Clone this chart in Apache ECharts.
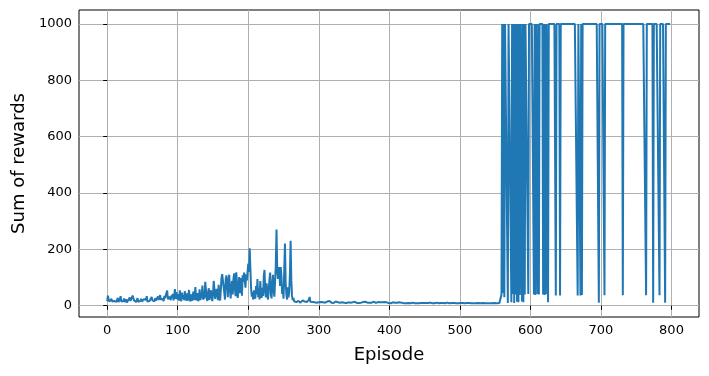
<!DOCTYPE html>
<html>
<head>
<meta charset="utf-8">
<script src="https://cdn.jsdelivr.net/npm/echarts@6/dist/echarts.min.js"></script>
<style>
  html, body { margin: 0; padding: 0; background: #fff; }
  #main { width: 709px; height: 376px; }
</style>
</head>
<body>
<div id="main"></div>
<script>
// tick labels
var xTicks = [0, 100, 200, 300, 400, 500, 600, 700, 800];
var yTicks = [0, 200, 400, 600, 800, 1000];

// sum of rewards per episode
var rewardsEarly = [ // 0-99
  16, 36, 22, 14, 18, 12, 25, 15, 20, 13,
  17, 11, 22, 14, 19, 28, 13, 16, 24, 34,
  15, 12, 20, 17, 26, 13, 18, 22, 11, 16,
  21, 14, 29, 17, 12, 24, 36, 43, 19, 15,
  22, 13, 18, 27, 14, 20, 11, 17, 25, 15,
  19, 12, 23, 16, 28, 21, 34, 15, 13, 20,
  17, 24, 14, 31, 19, 12, 22, 16, 27, 18,
  13, 25, 33, 20, 15, 38, 22, 17, 29, 24,
  16, 35, 27, 21, 45, 54, 23, 18, 32, 26,
  20, 37, 28, 42, 19, 33, 59, 24, 48, 30
];
var rewardsRamp = [ // 100-199
  22, 41, 18, 55, 30, 16, 47, 25, 38, 20,
  52, 19, 27, 44, 17, 35, 56, 23, 15, 40,
  28, 18, 50, 21, 33, 66, 19, 25, 45, 16,
  24, 58, 20, 17, 38, 72, 22, 18, 30, 85,
  90, 26, 17, 48, 62, 21, 19, 55, 33, 16,
  42, 88, 91, 24, 18, 60, 37, 20, 74, 28,
  19, 52, 98, 112, 105, 113, 46, 22, 95, 108,
  78, 30, 92, 110, 55, 26, 68, 88, 40, 96,
  115, 62, 34, 119, 75, 28, 58, 102, 45, 70,
  98, 36, 108, 85, 118, 122, 64, 112, 90, 120
];
var rewardsPeak = [ // 200-299
  150, 120, 204, 130, 60, 32, 48, 22, 55, 36,
  25, 70, 40, 95, 30, 62, 22, 88, 45, 28,
  64, 35, 105, 127, 50, 30, 80, 42, 22, 58,
  92, 118, 40, 26, 75, 110, 55, 32, 88, 140,
  271, 130, 95, 128, 137, 70, 137, 105, 42, 60,
  25, 130, 221, 80, 40, 22, 65, 30, 48, 110,
  231, 90, 35, 20, 28, 16, 14, 18, 13, 15,
  14, 17, 12, 15, 11, 16, 13, 19, 12, 14,
  15, 11, 18, 13, 16, 12, 22, 31, 14, 12,
  17, 13, 11, 15, 12, 16, 14, 11, 13, 18
];
var rewardsFlatA = [ // 300-399
  12, 14, 10, 13, 11, 16, 12, 10, 14, 11,
  13, 10, 15, 11, 12, 17, 10, 13, 11, 12,
  14, 10, 12, 11, 15, 10, 13, 12, 10, 16,
  11, 13, 10, 12, 14, 10, 11, 15, 12, 10,
  13, 11, 12, 10, 14, 11, 10, 13, 12, 11,
  10, 14, 11, 12, 10, 13, 11, 10, 12, 15,
  11, 10, 12, 13, 10, 11, 14, 10, 12, 11,
  10, 12, 11, 13, 10, 11, 10, 12, 14, 10,
  11, 10, 12, 10, 13, 11, 10, 12, 11, 10,
  12, 10, 11, 13, 10, 11, 12, 10, 11, 10
];
var rewardsFlatB = [ // 400-559
  11, 10, 9, 11, 10, 12, 10, 9, 11, 10,
  9, 11, 10, 10, 12, 9, 10, 11, 9, 10,
  10, 9, 11, 10, 9, 10, 12, 10, 9, 11,
  9, 10, 10, 11, 9, 10, 9, 11, 10, 9,
  10, 11, 9, 10, 9, 10, 11, 9, 10, 10,
  9, 10, 11, 9, 10, 9, 10, 10, 11, 9,
  10, 9, 10, 11, 9, 9, 10, 11, 9, 10,
  9, 10, 9, 10, 11, 9, 10, 9, 10, 9,
  10, 9, 11, 9, 10, 9, 10, 9, 9, 10,
  11, 9, 10, 9, 10, 9, 9, 10, 9, 11,
  9, 10, 9, 9, 10, 9, 11, 9, 10, 9,
  10, 9, 9, 10, 9, 10, 9, 9, 11, 9,
  9, 10, 9, 10, 9, 9, 10, 9, 10, 9,
  10, 9, 9, 10, 9, 11, 9, 9, 10, 9,
  9, 10, 9, 9, 10, 9, 10, 9, 9, 10,
  9, 10, 9, 10, 9, 9, 10, 9, 10, 40
];
var rewardsSolved = [ // 560-799
  1000, 45, 1000, 30, 1000, 1000, 1000, 1000, 10, 1000,
  1000, 1000, 1000, 12, 1000, 42, 1000, 10, 1000, 40,
  1000, 14, 1000, 12, 1000, 38, 1000, 1000, 15, 1000,
  12, 1000, 40, 1000, 1000, 1000, 1000, 42, 1000, 1000,
  1000, 1000, 1000, 1000, 1000, 40, 1000, 38, 1000, 1000,
  42, 1000, 40, 1000, 1000, 1000, 1000, 1000, 40, 1000,
  38, 1000, 41, 1000, 1000, 12, 1000, 1000, 1000, 1000,
  1000, 1000, 1000, 1000, 1000, 1000, 36, 1000, 1000, 1000,
  1000, 1000, 36, 1000, 1000, 1000, 1000, 1000, 1000, 1000,
  1000, 1000, 1000, 1000, 1000, 1000, 1000, 1000, 1000, 1000,
  1000, 1000, 1000, 1000, 1000, 1000, 1000, 36, 1000, 1000,
  1000, 36, 1000, 38, 1000, 1000, 1000, 1000, 1000, 1000,
  1000, 1000, 1000, 1000, 1000, 1000, 1000, 1000, 1000, 1000,
  1000, 1000, 1000, 1000, 1000, 1000, 1000, 11, 1000, 1000,
  1000, 1000, 1000, 1000, 1000, 37, 1000, 1000, 1000, 1000,
  1000, 1000, 1000, 1000, 1000, 1000, 1000, 1000, 1000, 1000,
  1000, 1000, 1000, 1000, 1000, 1000, 1000, 1000, 1000, 1000,
  1000, 37, 1000, 1000, 1000, 1000, 1000, 1000, 1000, 1000,
  1000, 1000, 1000, 1000, 1000, 1000, 1000, 1000, 1000, 1000,
  1000, 1000, 1000, 1000, 1000, 1000, 1000, 1000, 1000, 1000,
  1000, 1000, 1000, 1000, 37, 1000, 1000, 1000, 1000, 1000,
  1000, 1000, 1000, 1000, 11, 1000, 1000, 1000, 1000, 1000,
  1000, 1000, 1000, 37, 1000, 1000, 1000, 1000, 1000, 1000,
  1000, 11, 1000, 1000, 1000, 1000, 1000, 1000, 1000, 1000
];

var rewards = rewardsEarly.concat(rewardsRamp, rewardsPeak, rewardsFlatA, rewardsFlatB, rewardsSolved);
var seriesData = rewards.map(function (v, i) { return [i, v]; });

var myChart = echarts.init(document.getElementById('main'), null, { renderer: 'canvas' });

var font = 'DejaVu Sans';
var option = {
  animation: false,
  backgroundColor: '#fff',
  grid: {
    left: 79, right: 10, top: 10, bottom: 59,
    show: true, borderColor: '#000', borderWidth: 1, backgroundColor: 'transparent'
  },
  xAxis: {
    type: 'value',
    min: -40, max: 839,
    name: 'Episode', nameLocation: 'middle', nameGap: 29,
    nameTextStyle: { fontFamily: font, fontSize: 18, color: '#000' },
    axisLine: { show: false },
    axisTick: { show: true, length: 4, customValues: xTicks, lineStyle: { color: '#000', width: 1 } },
    axisLabel: {
      customValues: xTicks, margin: 7, fontFamily: font, fontSize: 13, color: '#000',
      formatter: function (v) { return String(v); }
    },
    splitLine: { show: true, lineStyle: { color: '#b0b0b0', width: 1 } }
  },
  yAxis: {
    type: 'value',
    min: -40, max: 1050,
    name: 'Sum of rewards', nameLocation: 'middle', nameGap: 45,
    nameTextStyle: { fontFamily: font, fontSize: 18, color: '#000' },
    axisLine: { show: false },
    axisTick: { show: true, length: 4, customValues: yTicks, lineStyle: { color: '#000', width: 1 } },
    axisLabel: {
      customValues: yTicks, margin: 7, fontFamily: font, fontSize: 13, color: '#000',
      formatter: function (v) { return String(v); }
    },
    splitLine: { show: true, lineStyle: { color: '#b0b0b0', width: 1 } }
  },
  series: [{
    type: 'line',
    data: seriesData,
    showSymbol: false,
    symbol: 'none',
    lineStyle: { color: '#1f77b4', width: 2 },
    itemStyle: { color: '#1f77b4' }
  }]
};

myChart.setOption(option);
</script>
</body>
</html>
